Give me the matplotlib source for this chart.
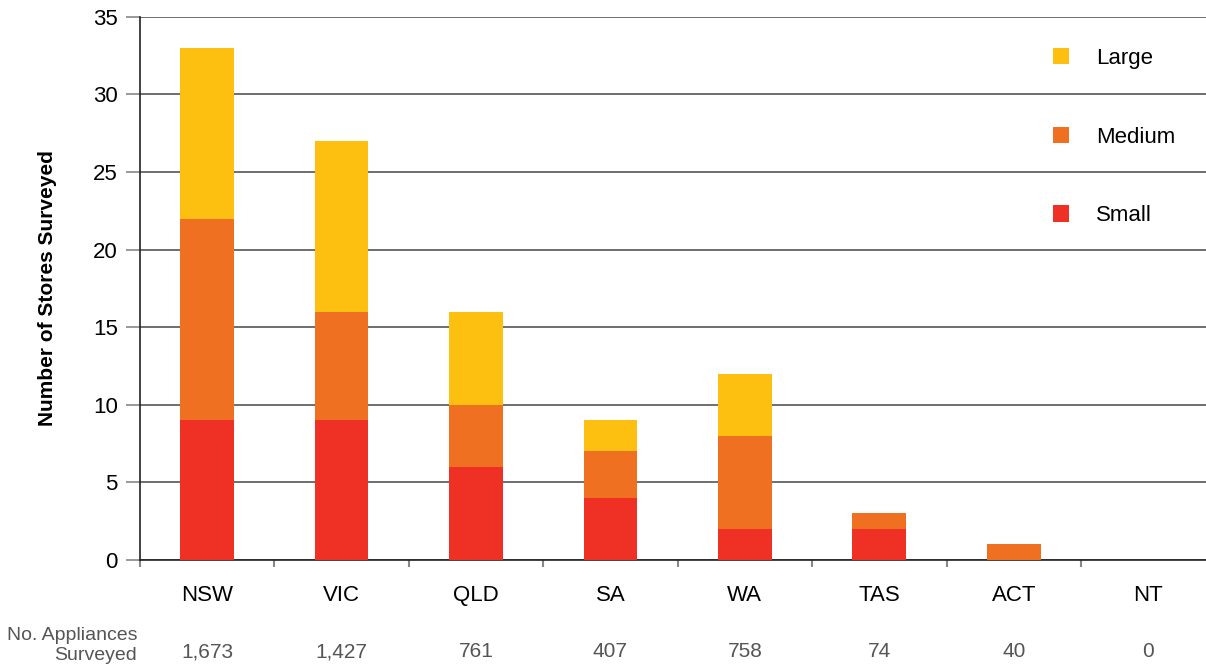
import matplotlib
matplotlib.use('Agg')
import matplotlib.pyplot as plt
import numpy as np

# 各州门店调查数量（按门店规模分段）
states = ['NSW', 'VIC', 'QLD', 'SA', 'WA', 'TAS', 'ACT', 'NT']
small = [9, 9, 6, 4, 2, 2, 0, 0]
medium = [13, 7, 4, 3, 6, 1, 1, 0]
large = [11, 11, 6, 2, 4, 0, 0, 0]
appliances = ['1,673', '1,427', '761', '407', '758', '74', '40', '0']

c_small = '#ee3124'
c_medium = '#f07022'
c_large = '#fdc010'

plt.rcParams['font.family'] = ['Liberation Sans', 'DejaVu Sans']

fig = plt.figure(figsize=(12.06, 6.68), dpi=100)
ax = fig.add_axes([0.116, 0.1617, 0.884, 0.813])

x = np.arange(len(states))
small = np.array(small)
medium = np.array(medium)
large = np.array(large)
w = 0.4
ax.bar(x, small, w, color=c_small, label='Small', zorder=3)
ax.bar(x, medium, w, bottom=small, color=c_medium, label='Medium', zorder=3)
ax.bar(x, large, w, bottom=small + medium, color=c_large, label='Large', zorder=3)

ax.set_ylim(0, 35)
ax.set_xlim(-0.5, 7.43)
ax.set_yticks(range(0, 36, 5))
ax.yaxis.grid(True, color='#555555', linewidth=1.2, zorder=0)
ax.set_axisbelow(True)

for s in ['top', 'right']:
    ax.spines[s].set_visible(False)
ax.spines['left'].set_color('#222222')
ax.spines['bottom'].set_color('#222222')
ax.spines['left'].set_linewidth(1.2)
ax.spines['bottom'].set_linewidth(1.2)

ax.set_xticks(x - 0.5)
ax.set_xticklabels([])
ax.tick_params(axis='x', length=5, color='#888888', width=1.5)
ax.tick_params(axis='y', length=10, color='#888888', width=1.2, labelsize=16, pad=6)

# 州名与电器数量
for i, st in enumerate(states):
    ax.text(i, -2.3, st, ha='center', va='center', fontsize=16, clip_on=False)
    ax.text(i, -5.9, appliances[i], ha='center', va='center', fontsize=15,
            color='#555555', clip_on=False)
fig.text(0.1136, 0.034, 'No. Appliances\nSurveyed', ha='right', va='center',
         fontsize=14, color='#555555', linespacing=1.2)

ax.set_ylabel('Number of Stores Surveyed', fontsize=15, fontweight='bold', labelpad=26)

# 图例：大、中、小
handles, labels = ax.get_legend_handles_labels()
leg = ax.legend(handles[::-1], labels[::-1], loc='upper right',
                bbox_to_anchor=(0.99, 0.98), frameon=False,
                handlelength=0.75, handleheight=0.75, labelspacing=2.6,
                handletextpad=1.2, prop={'size': 16})

fig.savefig('out.png', dpi=100)
